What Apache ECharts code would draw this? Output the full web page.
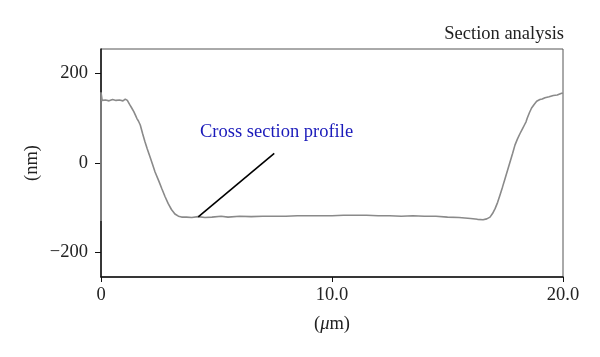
<!DOCTYPE html>
<html>
<head>
<meta charset="utf-8">
<script src="https://cdn.jsdelivr.net/npm/echarts@6/dist/echarts.min.js"></script>
<style>html,body{margin:0;padding:0;background:#fff}#c{width:600px;height:357px}</style>
</head>
<body>
<div id="c"></div>
<script>
// Profile: x in µm, height in nm
const profileX = [0,0,0.05,0.2,0.35,0.5,0.65,0.8,0.95,1.05,1.14,1.25,1.33,1.42,1.5,1.55,1.62,1.7,1.8,1.9,2.0,2.12,2.23,2.34,2.5,2.63,2.77,2.91,3.05,3.2,3.35,3.49,3.7,3.93,4.2,4.5,4.8,5.2,5.5,6.0,6.5,7.0,7.5,8.0,8.5,9.0,9.5,10.0,10.5,11.0,11.5,12.0,12.5,13.0,13.5,14.0,14.5,15.0,15.5,16.0,16.3,16.54,16.7,16.84,16.95,17.06,17.17,17.27,17.38,17.49,17.6,17.71,17.82,17.92,18.03,18.14,18.25,18.33,18.4,18.45,18.55,18.64,18.75,18.86,19.0,19.1,19.22,19.4,19.58,19.75,19.94,20.0];
const profileY = [-130,158,140,141,139,142,140,141,139,143,140,130,123,115,106,100,94,85,66,48,32,14,-3,-20,-40,-57,-75,-91,-104,-114,-119,-121,-121,-122,-120,-122,-121,-119,-121,-119,-120,-119,-119,-119,-118,-118,-118,-118,-117,-117,-117,-118,-118,-119,-118,-119,-119,-121,-122,-124,-126,-127,-125,-121,-113,-102,-88,-72,-54,-35,-16,3,22,40,54,66,77,85,92,100,113,123,131,138,142,143,146,148,151,152,156,156];
// Annotation pointer line (data coords)
const pointerX = [4.21, 7.5];
const pointerY = [-120.6, 21.3];
const yTicks = [-200, 0, 200];
const xTicks = [0, 10, 20];
const titleText = 'Section analysis';
const annotationText = 'Cross section profile';

const font = '"Liberation Serif", "DejaVu Serif", serif';
const fs = 18.5;
const chart = echarts.init(document.getElementById('c'));
chart.setOption({
  animation: false,
  backgroundColor: '#fff',
  title: {
    text: titleText, right: 31, top: 20,
    textStyle: {fontFamily: font, fontSize: fs, fontWeight: 'normal', color: '#222'}
  },
  grid: {left: 101, right: 37, top: 49, bottom: 80, show: true, borderColor: '#555', borderWidth: 1, backgroundColor: 'transparent'},
  xAxis: {
    type: 'value', min: 0, max: 20, interval: 10,
    name: '{p|(}{mu|μ}{p|m)}', nameLocation: 'middle', nameGap: 38,
    nameTextStyle: {rich: {p: {fontFamily: font, fontSize: fs, color: '#222'}, mu: {fontFamily: font, fontSize: fs, fontStyle: 'italic', color: '#222'}}},
    axisLine: {show: true, onZero: false, lineStyle: {color: '#111', width: 1.5}},
    axisTick: {show: true, inside: false, length: 5, lineStyle: {color: '#111'}, customValues: xTicks},
    axisLabel: {fontFamily: font, fontSize: fs, color: '#222', margin: 9, customValues: xTicks,
      formatter: v => v === 0 ? '0' : v.toFixed(1)},
    splitLine: {show: false}
  },
  yAxis: {
    type: 'value', min: -255, max: 255,
    name: '(nm)', nameLocation: 'middle', nameGap: 59, nameRotate: 90, nameMoveOverlap: false,
    nameTextStyle: {fontFamily: font, fontSize: fs, color: '#222'},
    axisLine: {show: true, onZero: false, lineStyle: {color: '#111', width: 1.5}},
    axisTick: {show: true, inside: false, length: 6, lineStyle: {color: '#111'}, customValues: yTicks},
    axisLabel: {fontFamily: font, fontSize: fs, color: '#222', margin: 13, customValues: yTicks,
      formatter: v => v < 0 ? '\u2212' + Math.abs(v) : String(v)},
    splitLine: {show: false}
  },
  series: [
    {
      type: 'line', showSymbol: false, symbol: 'none',
      data: profileX.map((x, i) => [x, profileY[i]]),
      lineStyle: {color: '#8a8a8a', width: 1.6},
      z: 3
    },
    {
      type: 'line', showSymbol: false, symbol: 'none',
      data: pointerX.map((x, i) => [x, pointerY[i]]),
      lineStyle: {color: '#000', width: 1.6},
      z: 4
    }
  ],
  graphic: [{
    type: 'text', left: 200, top: 123,
    style: {text: annotationText, fill: '#1a1aba', font: fs + 'px ' + font}
  }]
});
</script>
</body>
</html>
